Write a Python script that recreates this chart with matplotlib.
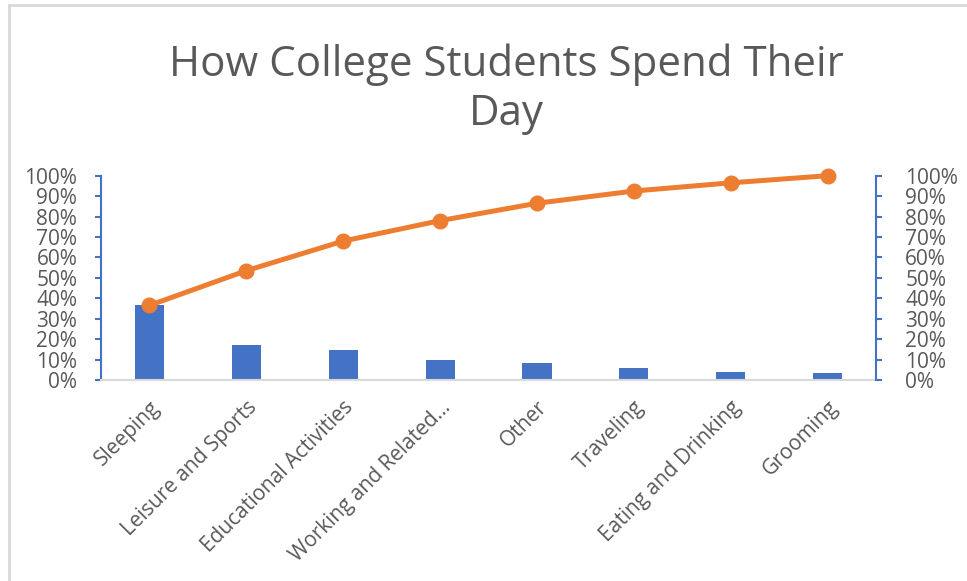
import matplotlib.pyplot as plt
import numpy as np
from matplotlib.lines import Line2D
from matplotlib.ticker import PercentFormatter

plt.rcParams["font.family"] = ["Open Sans", "DejaVu Sans"]

activities = [
    "Sleeping",
    "Leisure and Sports",
    "Educational Activities",
    "Working and Related...",
    "Other",
    "Traveling",
    "Eating and Drinking",
    "Grooming",
]
share = [36.5, 17.0, 14.5, 10.0, 8.5, 6.0, 4.0, 3.5]  # percent of the day
y_ticks = [0, 10, 20, 30, 40, 50, 60, 70, 80, 90, 100]

BLUE = "#4472C4"
ORANGE = "#ED7D31"
GREY = "#595959"

share = np.array(share)
cumulative = np.cumsum(share) / share.sum() * 100
x = np.arange(len(activities))

fig = plt.figure(figsize=(9.67, 5.81), dpi=100)
ax = fig.add_axes([0.1044, 0.346, 0.8016, 0.3516])
ax2 = ax.twinx()

ax.bar(x, share, width=0.3, color=BLUE, zorder=2)
ax2.plot(
    x,
    cumulative,
    color=ORANGE,
    lw=3.6,
    marker="o",
    ms=10.5,
    solid_capstyle="round",
    clip_on=False,
    zorder=3,
)

for a in (ax, ax2):
    a.set_ylim(0, 100)
    a.set_yticks(y_ticks)
    a.yaxis.set_major_formatter(PercentFormatter(decimals=0))
    a.set_xlim(-0.5, len(activities) - 0.5)
    for side in ("top", "bottom", "left", "right"):
        a.spines[side].set_visible(False)

ax.spines["left"].set_visible(True)
ax.spines["left"].set_color(BLUE)
ax.spines["left"].set_linewidth(1.5)
ax.spines["bottom"].set_visible(True)
ax.spines["bottom"].set_color("#D9D9D9")
ax.spines["bottom"].set_linewidth(1.5)
ax2.spines["right"].set_visible(True)
ax2.spines["right"].set_color(BLUE)
ax2.spines["right"].set_linewidth(1.5)

ax.tick_params(axis="y", colors=BLUE, labelcolor=GREY, labelsize=15,
               length=4, width=1.5, direction="out", pad=13)
ax2.tick_params(axis="y", colors=BLUE, labelcolor=GREY, labelsize=15,
                length=4, width=1.5, direction="out", pad=17)
ax.set_xticks(x)
ax.set_xticklabels(activities, rotation=45, ha="right", va="top",
                   rotation_mode="anchor", color=GREY, fontsize=15)
ax.tick_params(axis="x", length=0, pad=12)

fig.text(0.524, 0.847, "How College Students Spend Their\nDay", ha="center",
         va="center", color=GREY, fontsize=30.3, linespacing=1.22)

# chart area border
fig.add_artist(Line2D([0.0095, 0.0095], [0, 0.992], transform=fig.transFigure,
                      color="#D9D9D9", lw=2))
fig.add_artist(Line2D([0.0095, 1], [0.992, 0.992], transform=fig.transFigure,
                      color="#D9D9D9", lw=2))

fig.savefig("out.png", dpi=100)
